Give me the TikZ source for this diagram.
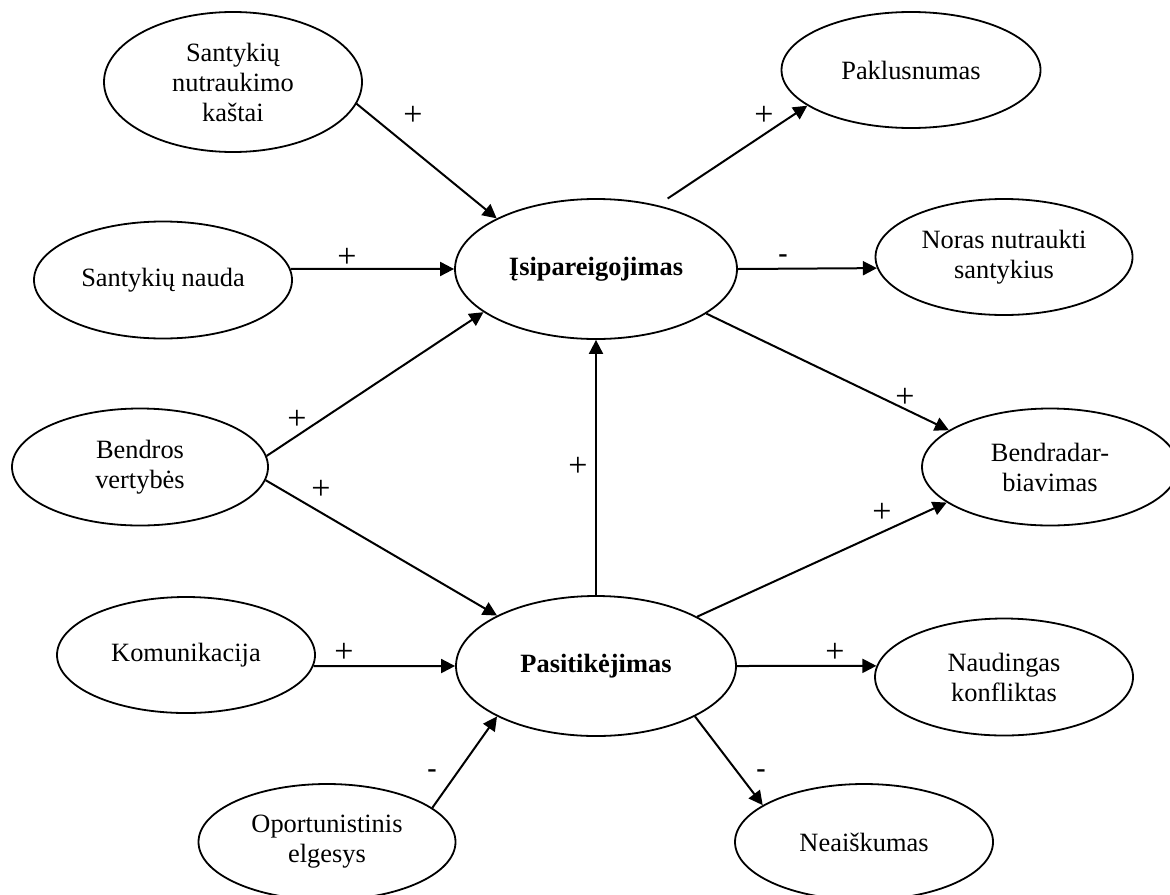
\documentclass[tikz,border=0pt]{standalone}
\usepackage{fontspec}
\setmainfont{Liberation Serif}
\usetikzlibrary{shapes.geometric,arrows.meta}
\begin{document}
\begin{tikzpicture}[x=0.5pt,y=-0.5pt,
  ell/.style={draw, ellipse, line width=0.9pt, inner sep=0pt, align=center,
    font=\fontsize{13.2}{15}\selectfont},
  arr/.style={-{Triangle[length=7pt,width=7pt]}, line width=1pt},
  plus/.style={font=\fontsize{17}{17}\selectfont, inner sep=0pt},
  minus/.style={font=\fontsize{14}{15}\selectfont\bfseries, inner sep=0pt}]
\clip (0,0) rectangle (1170,894);
% nodes
\node[ell, minimum width=129pt, minimum height=70pt] (A) at (233,82) {Santykių\\nutraukimo\\kaštai};
\node[ell, minimum width=129pt, minimum height=58.5pt] (B) at (163,280) {Santykių nauda};
\node[ell, minimum width=128pt, minimum height=58.5pt] (C) at (140,467) {Bendros\\vertybės};
\node[ell, minimum width=129pt, minimum height=58pt] (D) at (186,655) {Komunikacija};
\node[ell, minimum width=128.5pt, minimum height=58pt] (E) at (327,842) {Oportunistinis\\elgesys};
\node[ell, minimum width=141pt, minimum height=70pt] (F) at (596,269) {\bfseries Įsipareigojimas};
\node[ell, minimum width=140pt, minimum height=70pt] (G) at (596,666) {\bfseries Pasitikėjimas};
\node[ell, minimum width=129.5pt, minimum height=58pt] (H) at (911,70) {Paklusnumas};
\node[ell, minimum width=128.5pt, minimum height=58pt] (I) at (1004,257) {\raisebox{-2pt}{\begin{tabular}{@{}c@{}}Noras nutraukti\\santykius\end{tabular}}};
\node[ell, minimum width=128pt, minimum height=58.5pt] (J) at (1050,467) {Bendradar-\\biavimas};
\node[ell, minimum width=129pt, minimum height=58.5pt] (K) at (1004,677) {Naudingas\\konfliktas};
\node[ell, minimum width=129pt, minimum height=58pt] (L) at (864,842) {Neaiškumas};
% connectors
\draw[arr] (A.-10.5) -- (F.153);
\draw[arr] (B.5) -- (F.west);
\draw[arr] (C.5) -- (F.201.9);
\draw[arr] (C.354.6) -- (G.153);
\draw[arr] (G.north) -- (F.south);
\draw[arr, shorten <=6pt] (F.46.5) -- (H.199.2);
\draw[arr] (F.east) -- (I.185);
\draw[arr] (F.-22) -- (J.160.9);
\draw[arr] (G.26.6) -- (J.199.1);
\draw[arr] (G.east) -- (K.175);
\draw[arr] (G.333.4) -- (L.160.9);
\draw[arr] (D.355) -- (G.west);
\draw[arr] (E.18.9) -- (G.207.5);
% labels
\node[plus] (l1) at (413,116) {+};
\node[plus] (l2) at (347,258) {+};
\node[plus] (l3) at (297,420) {+};
\node[plus] (l4) at (321,490) {+};
\node[plus] (l5) at (578,467) {+};
\node[plus] (l6) at (764,116) {+};
\node[plus] (l7) at (905,398) {+};
\node[plus] (l8) at (882,513) {+};
\node[plus] (l9) at (835,653) {+};
\node[plus] (l10) at (344,653) {+};
\node[minus] (m1) at (783,259) {-};
\node[minus] (m2) at (761,774) {-};
\node[minus] (m3) at (432,774) {-};
\end{tikzpicture}
\end{document}
